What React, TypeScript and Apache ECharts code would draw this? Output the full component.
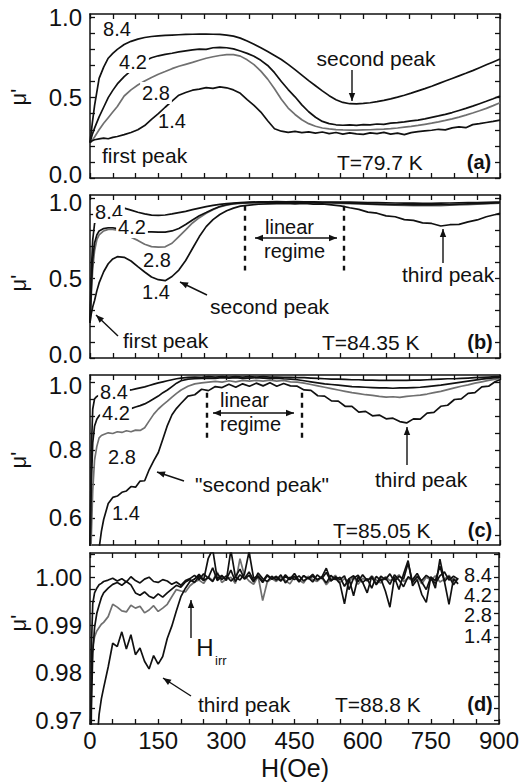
import React, { useEffect, useRef } from 'react';
import * as echarts from 'echarts';

const FONT = '"Liberation Sans", Arial, Helvetica, sans-serif';
const BLACK = '#111';
const GRAY = '#707070';

// ---------- Panel (a) T=79.7 K ----------
const aH = [0,5,10,20,30,40,50,60,75,90,105,120,135,150,165,180,195,210,225,240,255,270,285,300,315,330,345,360,375,390,405,420,435,450,465,480,495,510,525,540,555,570,585,600,615,630,645,660,675,690,705,720,735,750,765,780,795,810,825,840,855,870,885,900];
const a84 = [0.22,0.34,0.45,0.62,0.69,0.745,0.775,0.80,0.83,0.85,0.864,0.874,0.88,0.884,0.887,0.889,0.891,0.893,0.894,0.895,0.895,0.894,0.893,0.889,0.882,0.87,0.852,0.832,0.81,0.787,0.762,0.737,0.707,0.674,0.64,0.606,0.574,0.542,0.512,0.487,0.47,0.462,0.461,0.464,0.468,0.475,0.483,0.492,0.503,0.515,0.528,0.542,0.556,0.571,0.587,0.603,0.619,0.635,0.651,0.668,0.686,0.704,0.722,0.74];
const a42 = [0.22,0.27,0.31,0.38,0.44,0.50,0.545,0.585,0.63,0.668,0.70,0.728,0.748,0.76,0.769,0.776,0.784,0.791,0.797,0.802,0.80,0.81,0.812,0.81,0.803,0.79,0.775,0.757,0.732,0.70,0.655,0.60,0.55,0.505,0.455,0.412,0.378,0.352,0.338,0.331,0.328,0.330,0.327,0.332,0.330,0.336,0.334,0.341,0.344,0.349,0.355,0.36,0.368,0.377,0.386,0.396,0.407,0.42,0.433,0.447,0.462,0.477,0.493,0.51];
const a28 = [0.22,0.235,0.255,0.30,0.34,0.375,0.41,0.445,0.51,0.548,0.578,0.603,0.625,0.645,0.662,0.68,0.695,0.707,0.719,0.732,0.745,0.754,0.762,0.767,0.767,0.758,0.735,0.705,0.665,0.615,0.555,0.49,0.435,0.395,0.362,0.338,0.322,0.311,0.305,0.301,0.299,0.298,0.298,0.299,0.30,0.302,0.304,0.307,0.311,0.316,0.321,0.327,0.334,0.341,0.349,0.358,0.368,0.379,0.391,0.404,0.418,0.433,0.45,0.468];
const a14 = [0.22,0.232,0.238,0.243,0.248,0.244,0.253,0.258,0.27,0.283,0.30,0.326,0.365,0.40,0.44,0.478,0.515,0.532,0.546,0.553,0.562,0.557,0.567,0.561,0.548,0.527,0.487,0.452,0.41,0.356,0.306,0.291,0.284,0.29,0.282,0.287,0.279,0.286,0.276,0.283,0.273,0.281,0.275,0.271,0.281,0.276,0.284,0.273,0.279,0.27,0.282,0.288,0.293,0.297,0.303,0.299,0.312,0.318,0.313,0.332,0.338,0.345,0.352,0.36];

// ---------- Panel (b) T=84.35 K ----------
const bH = [0,3,6,10,15,20,30,40,50,60,75,90,105,120,135,150,165,180,195,210,225,240,255,270,285,300,315,330,350,370,390,410,430,450,470,490,510,530,550,570,590,610,630,650,670,690,710,730,750,770,790,810,830,850,870,890,900];
const b84 = [0.22,0.55,0.74,0.84,0.885,0.905,0.92,0.93,0.937,0.94,0.938,0.925,0.912,0.902,0.894,0.892,0.895,0.902,0.91,0.918,0.928,0.938,0.947,0.955,0.961,0.966,0.97,0.973,0.975,0.977,0.977,0.978,0.977,0.978,0.977,0.977,0.976,0.976,0.975,0.975,0.974,0.973,0.972,0.971,0.97,0.969,0.969,0.968,0.968,0.969,0.97,0.971,0.972,0.973,0.974,0.975,0.975];
const b42 = [0.22,0.45,0.62,0.72,0.77,0.795,0.81,0.815,0.815,0.81,0.80,0.793,0.79,0.789,0.789,0.788,0.788,0.795,0.81,0.835,0.864,0.89,0.91,0.931,0.948,0.959,0.966,0.97,0.972,0.974,0.975,0.975,0.974,0.975,0.974,0.974,0.973,0.972,0.971,0.969,0.967,0.965,0.963,0.961,0.96,0.959,0.958,0.958,0.958,0.959,0.96,0.962,0.964,0.966,0.968,0.97,0.971];
const b28 = [0.22,0.40,0.56,0.67,0.74,0.77,0.795,0.805,0.805,0.80,0.785,0.755,0.736,0.712,0.697,0.694,0.696,0.718,0.76,0.802,0.845,0.878,0.906,0.928,0.946,0.957,0.964,0.968,0.97,0.971,0.972,0.973,0.972,0.973,0.971,0.972,0.97,0.97,0.968,0.966,0.964,0.962,0.96,0.958,0.956,0.955,0.954,0.953,0.953,0.954,0.956,0.958,0.96,0.963,0.966,0.968,0.969];
const b14 = [0.22,0.28,0.32,0.36,0.42,0.47,0.54,0.59,0.62,0.634,0.63,0.607,0.572,0.538,0.507,0.49,0.484,0.51,0.55,0.61,0.685,0.76,0.822,0.866,0.898,0.921,0.938,0.95,0.957,0.962,0.965,0.966,0.968,0.965,0.967,0.963,0.964,0.958,0.952,0.94,0.93,0.913,0.906,0.889,0.884,0.866,0.861,0.846,0.842,0.826,0.834,0.836,0.852,0.864,0.884,0.898,0.906];
const bLinearH = [340, 556];
const bLinearV = [0.547, 0.953];

// ---------- Panel (c) T=85.05 K ----------
const cH = [0,3,6,10,15,20,25,30,40,50,60,70,80,90,100,110,120,130,140,150,160,170,180,190,200,215,230,245,260,275,290,305,320,335,350,365,380,395,410,425,440,455,470,485,500,515,530,545,560,575,590,605,620,635,650,665,680,695,710,725,740,755,770,785,800,815,830,845,860,875,890,900];
const c84 = [0.50,0.80,0.92,0.95,0.957,0.96,0.965,0.967,0.969,0.971,0.972,0.973,0.974,0.976,0.979,0.982,0.985,0.989,0.993,0.997,1.0,1.003,1.006,1.009,1.011,1.013,1.014,1.013,1.015,1.014,1.015,1.014,1.015,1.014,1.015,1.014,1.015,1.014,1.014,1.013,1.013,1.012,1.012,1.011,1.01,1.009,1.008,1.008,1.007,1.006,1.006,1.005,1.005,1.004,1.004,1.004,1.004,1.004,1.005,1.005,1.006,1.007,1.008,1.009,1.009,1.01,1.011,1.012,1.013,1.014,1.015,1.015];
const c42 = [0.50,0.70,0.82,0.87,0.89,0.90,0.905,0.908,0.91,0.912,0.914,0.916,0.918,0.921,0.926,0.93,0.935,0.942,0.95,0.958,0.968,0.976,0.986,0.996,1.003,1.008,1.009,1.01,1.011,1.01,1.012,1.011,1.012,1.01,1.011,1.012,1.011,1.01,1.011,1.009,1.008,1.006,1.003,1.0,0.997,0.994,0.992,0.99,0.988,0.986,0.985,0.984,0.983,0.982,0.982,0.981,0.982,0.982,0.983,0.984,0.986,0.988,0.99,0.993,0.996,0.999,1.002,1.005,1.008,1.01,1.012,1.013];
const c28 = [0.40,0.55,0.68,0.77,0.81,0.835,0.842,0.845,0.85,0.848,0.853,0.851,0.856,0.853,0.858,0.857,0.865,0.885,0.905,0.92,0.932,0.943,0.955,0.966,0.976,0.987,0.994,0.997,0.999,1.001,0.999,1.003,1.0,1.004,1.002,1.004,1.002,1.005,1.002,1.004,1.0,0.999,0.996,0.992,0.988,0.984,0.98,0.976,0.972,0.968,0.965,0.962,0.96,0.957,0.955,0.956,0.954,0.957,0.959,0.961,0.964,0.968,0.972,0.977,0.982,0.987,0.991,0.996,1.0,1.004,1.008,1.01];
const c14 = [0.30,0.33,0.36,0.40,0.45,0.51,0.56,0.595,0.642,0.66,0.664,0.675,0.679,0.692,0.69,0.708,0.709,0.742,0.768,0.792,0.832,0.872,0.903,0.922,0.937,0.958,0.962,0.978,0.974,0.986,0.983,0.993,0.984,0.994,0.987,0.996,0.988,0.997,0.987,0.995,0.988,0.987,0.976,0.975,0.959,0.958,0.944,0.943,0.928,0.928,0.911,0.913,0.9,0.902,0.891,0.893,0.883,0.879,0.891,0.89,0.908,0.91,0.928,0.931,0.948,0.95,0.966,0.968,0.985,0.987,1.001,1.006];
const cLinearH = [256, 465];
const cLinearV = [0.835, 0.968];

// ---------- Panel (d) T=88.8 K ----------
const dH = [0,3,6,10,15,20,25,30,40,50,60,70,80,90,100,110,120,130,140,150,160,170,180,190,200,210,220,230,240,250,260,270,280,290,300,310,320,330,340,350,360,370,380,390,400,410,420,430,440,450,460,470,480,490,500,510,520,530,540,550,560,570,580,590,600,610,620,630,640,650,660,670,680,690,700,710,720,730,740,750,760,770,780,790,800,810];
const d84 = [0.95,0.985,0.9945,0.9968,0.9978,0.9985,0.9988,0.9992,0.9995,0.9999,0.9993,0.9998,0.9991,1.0002,0.9994,0.9989,0.9997,1.0001,0.9992,0.999,0.9996,0.9993,0.9986,0.9991,0.9984,0.9994,0.9998,1.0005,0.9996,1.0008,0.9999,1.0021,0.9994,1.0003,0.9997,1.0016,0.9992,1.0006,0.9998,1.0012,0.9995,1.0002,0.999,1.0004,0.9997,1.0001,0.9993,1.0006,0.9996,1.0003,0.9991,1.0004,0.9998,1.0007,0.9995,1.0002,0.9989,1.0005,0.9996,1.0001,0.9982,0.9998,1.0004,0.9992,1.0006,0.9994,1.0001,0.9987,1.0003,0.9996,1.0008,0.9992,1.0003,0.9997,1.0031,0.999,1.0002,0.9994,1.0005,0.9998,0.9988,1.0004,1.0012,0.9995,1.0003,0.9997];
const d42 = [0.94,0.972,0.984,0.9895,0.9925,0.9942,0.9958,0.9968,0.9978,0.9986,0.999,0.9984,0.9992,0.9985,0.9968,0.9963,0.997,0.9961,0.9957,0.9966,0.9959,0.9968,0.9976,0.9984,0.998,0.9991,0.9996,0.999,1.0003,0.9994,1.0,0.9992,1.0009,0.9996,1.0004,0.9993,1.0002,1.0018,0.9997,1.0005,0.9991,1.001,0.9998,0.9992,1.0003,0.9995,1.0006,0.9989,1.0001,0.9996,1.0004,0.9993,1.0,0.9991,1.0006,0.9998,1.0011,0.9993,1.0002,0.9996,1.0004,0.9975,0.9999,1.0005,0.999,0.9998,0.9978,1.0003,0.9994,1.0,0.9986,1.0006,0.9995,0.9981,1.0002,0.9996,1.0009,0.9991,0.9975,1.0001,0.9994,1.0024,0.9992,1.0003,0.9985,0.9999];
const d28 = [0.955,0.978,0.9855,0.9875,0.9888,0.9895,0.9902,0.9906,0.9918,0.9944,0.9938,0.993,0.9928,0.9942,0.9936,0.994,0.9926,0.9932,0.9941,0.9929,0.9936,0.9944,0.996,0.9975,0.9972,0.997,0.9983,0.9991,0.9995,0.9988,1.0002,0.9994,1.0012,0.999,0.9997,1.0001,0.9988,1.004,1.0004,0.9993,0.9986,1.0003,0.9952,0.9991,0.9998,0.9992,1.0001,0.9994,0.9987,1.0002,0.9995,0.9989,1.0003,0.9996,0.9992,1.0001,0.9985,0.9997,1.0005,0.999,0.9998,0.9993,1.0002,0.9986,0.9999,0.9993,1.0004,0.9995,0.9989,1.0002,0.9994,0.9998,1.0006,0.9992,0.9999,0.9994,1.0003,0.9987,1.0001,0.9995,1.0004,0.9991,0.9997,1.0005,0.9993,0.9998];
const d14 = [0.93,0.94,0.95,0.958,0.965,0.9712,0.9745,0.9768,0.9812,0.9862,0.9855,0.9886,0.985,0.988,0.9838,0.9852,0.9824,0.9808,0.9836,0.9818,0.9834,0.9872,0.9898,0.993,0.996,0.9978,0.9992,0.9997,1.0007,0.9995,1.004,1.006,0.9998,1.0005,0.9994,1.0058,1.0001,0.9995,1.0008,1.0055,0.9999,1.0004,0.9993,1.0006,0.9998,1.0003,0.9994,1.0002,0.9997,1.0009,0.9993,1.0004,0.9998,1.0003,0.9996,1.0001,1.002,0.9994,0.9999,0.9988,0.9945,0.9998,0.9962,1.0002,0.999,0.9968,1.0003,0.9985,0.9998,0.9972,0.9938,1.0001,0.9975,1.0008,1.0036,0.9983,0.9996,0.9965,0.9948,1.0002,0.9978,1.0039,0.9992,0.9944,0.9998,0.9987];

// ---------- axes ----------
const xTickLabels = [0, 150, 300, 450, 600, 750, 900];
const abTicks = [0,0.1,0.2,0.3,0.4,0.5,0.6,0.7,0.8,0.9,1.0];
const abLabels = [0, 0.5, 1.0];
const cTicks = [0.55,0.6,0.65,0.7,0.75,0.8,0.85,0.9,0.95,1.0];
const cLabels = [0.6, 0.8, 1.0];
const dTicks = [0.97,0.9725,0.975,0.9775,0.98,0.9825,0.985,0.9875,0.99,0.9925,0.995,0.9975,1.0,1.0025,1.005];
const dLabels = [0.97, 0.98, 0.99, 1.0];
const curveNames = ['1.4', '2.8', '4.2', '8.4'];

const panels = [
  { H: aH, curves: [a14, a28, a42, a84], min: 0, max: 1.02, ticks: abTicks, labels: abLabels, digits: 1, nudgeTop: false, nudgeBottom: true },
  { H: bH, curves: [b14, b28, b42, b84], min: 0, max: 1.02, ticks: abTicks, labels: abLabels, digits: 1, nudgeTop: true, nudgeBottom: true },
  { H: cH, curves: [c14, c28, c42, c84], min: 0.52, max: 1.02, ticks: cTicks, labels: cLabels, digits: 1, nudgeTop: true, nudgeBottom: false },
  { H: dH, curves: [d14, d28, d42, d84], min: 0.9692, max: 1.0052, ticks: dTicks, labels: dLabels, digits: 2, nudgeTop: false, nudgeBottom: false },
];
const linearRegimes = [null, { h: bLinearH, v: bLinearV }, { h: cLinearH, v: cLinearV }, null];

const GRIDS = [
  { top: 14, height: 164 },
  { top: 195, height: 163 },
  { top: 375, height: 170 },
  { top: 553, height: 171 },
];

function txt(text: string, x: number, y: number, o: any = {}) {
  const style: any = {
    text,
    fill: BLACK,
    font: `${o.weight || 'normal'} ${o.size || 20}px ${FONT}`,
    align: o.align || 'left',
    verticalAlign: 'middle',
  };
  if (o.bg) {
    style.backgroundColor = '#fff';
    style.padding = [1, 2];
  }
  return { type: 'text', x, y, z: 100, rotation: o.rotation || 0, style };
}

function head(x1: number, y1: number, x2: number, y2: number) {
  const dx = x2 - x1, dy = y2 - y1;
  const L = Math.hypot(dx, dy);
  const ux = dx / L, uy = dy / L;
  const hl = 8, hw = 3.2;
  const bx = x2 - ux * hl, by = y2 - uy * hl;
  return {
    type: 'polygon', z: 100,
    shape: { points: [[x2, y2], [bx - uy * hw, by + ux * hw], [bx + uy * hw, by - ux * hw]] },
    style: { fill: BLACK },
  };
}
function arrow(x1: number, y1: number, x2: number, y2: number) {
  return [
    { type: 'line', z: 100, shape: { x1, y1, x2, y2 }, style: { stroke: BLACK, lineWidth: 1.4 } },
    head(x1, y1, x2, y2),
  ];
}
function dblArrow(x1: number, y1: number, x2: number, y2: number) {
  return [
    { type: 'line', z: 100, shape: { x1, y1, x2, y2 }, style: { stroke: BLACK, lineWidth: 1.4 } },
    head(x1, y1, x2, y2),
    head(x2, y2, x1, y1),
  ];
}

function buildOption() {
  const grid: any[] = [];
  const xAxis: any[] = [];
  const yAxis: any[] = [];
  const series: any[] = [];
  const axisLine = { show: true, onZero: false, lineStyle: { color: BLACK, width: 1.5 } };
  const axisTick = { show: true, inside: true, length: 5, lineStyle: { color: BLACK, width: 1.3 } };
  const labelFont = { fontFamily: FONT, fontSize: 24, color: BLACK };

  panels.forEach((p, i) => {
    grid.push({ left: 90, width: 410, top: GRIDS[i].top, height: GRIDS[i].height, containLabel: false });
    ['bottom', 'top'].forEach((pos) => {
      xAxis.push({
        gridIndex: i, type: 'value', min: 0, max: 900, interval: 50, position: pos,
        axisLine, axisTick,
        axisLabel: {
          show: i === 3 && pos === 'bottom', interval: 0, margin: 4, ...labelFont,
          formatter: (v: number) => (xTickLabels.indexOf(v) >= 0 ? String(v) : ''),
        },
        splitLine: { show: false },
      });
    });
    const lo = p.labels[0];
    const hi = p.labels[p.labels.length - 1];
    ['left', 'right'].forEach((pos) => {
      yAxis.push({
        gridIndex: i, type: 'value', min: p.min, max: p.max, position: pos,
        axisLine,
        axisTick: { ...axisTick, customValues: p.ticks },
        axisLabel: {
          show: pos === 'left', customValues: p.labels, margin: 8, ...labelFont, lineHeight: 20,
          formatter: (v: number) => {
            const s = v.toFixed(p.digits);
            if (p.nudgeBottom && Math.abs(v - lo) < 1e-9) return `{up|${s}}`;
            if (p.nudgeTop && Math.abs(v - hi) < 1e-9) return `{dn|${s}}`;
            return s;
          },
          rich: {
            up: { ...labelFont, lineHeight: 20, padding: [0, 0, 8, 0] },
            dn: { ...labelFont, lineHeight: 20, padding: [8, 0, 0, 0] },
          },
        },
        splitLine: { show: false },
      });
    });
    p.curves.forEach((vals, k) => {
      const s: any = {
        name: `${curveNames[k]}-${i}`,
        type: 'line', xAxisIndex: 2 * i, yAxisIndex: 2 * i,
        data: p.H.map((h, j) => [h, vals[j]]),
        showSymbol: false, symbol: 'none', silent: true,
        lineStyle: { color: k === 1 ? GRAY : BLACK, width: 1.7 },
        itemStyle: { color: k === 1 ? GRAY : BLACK },
        z: k === 1 ? 3 : 4,
      };
      const lr = linearRegimes[i];
      if (k === 0 && lr) {
        s.markLine = {
          silent: true, symbol: ['none', 'none'], label: { show: false },
          lineStyle: { type: [5, 5], width: 2.4, color: BLACK },
          data: lr.h.map((h) => [{ coord: [h, lr.v[1]] }, { coord: [h, lr.v[0]] }]),
        };
      }
      series.push(s);
    });
  });

  const A = 21; // annotation font size
  const graphic: any[] = [
    // y-axis names
    txt("μ'", 18, 97, { size: 22, align: 'center', rotation: Math.PI / 2 }),
    txt("μ'", 18, 283, { size: 22, align: 'center', rotation: Math.PI / 2 }),
    txt("μ'", 18, 460, { size: 22, align: 'center', rotation: Math.PI / 2 }),
    txt("μ'", 18, 623, { size: 22, align: 'center', rotation: Math.PI / 2 }),
    txt('H(Oe)', 295, 768, { size: 25, align: 'center' }),

    // (a)
    txt('8.4', 117, 29, { align: 'center' }),
    txt('4.2', 133, 62, { align: 'center', bg: true }),
    txt('2.8', 156, 93, { align: 'center', bg: true }),
    txt('1.4', 172, 121, { align: 'center' }),
    txt('first peak', 102, 155, { size: A }),
    txt('second peak', 376, 58, { align: 'center', size: A }),
    ...arrow(352, 70, 352, 101),
    txt('T=79.7 K', 337, 162, { size: A }),
    txt('(a)', 479, 162, { align: 'center', weight: 'bold' }),

    // (b)
    txt('8.4', 109, 212, { align: 'center', bg: true }),
    txt('4.2', 132, 227, { align: 'center', bg: true }),
    txt('2.8', 157, 260, { align: 'center' }),
    txt('1.4', 156, 292, { align: 'center' }),
    txt('linear', 265, 227),
    txt('regime', 264, 251),
    ...dblArrow(255, 238, 337, 238),
    txt('second peak', 210, 306, { size: A }),
    ...arrow(207, 295, 180, 282),
    txt('first peak', 123, 340, { size: A }),
    ...arrow(118, 336, 96, 315),
    txt('third peak', 402, 274, { size: A }),
    ...arrow(443, 263, 443, 229),
    txt('T=84.35 K', 322, 342, { size: A }),
    txt('(b)', 480, 342, { align: 'center', weight: 'bold' }),

    // (c)
    txt('8.4', 114, 392, { align: 'center', bg: true }),
    txt('4.2', 116, 413, { align: 'center', bg: true }),
    txt('2.8', 122, 457, { align: 'center' }),
    txt('1.4', 126, 513, { align: 'center' }),
    txt('linear', 220, 400),
    txt('regime', 220, 424),
    ...dblArrow(213, 413, 294, 413),
    txt('"second peak"', 195, 484, { size: A }),
    ...arrow(184, 481, 157, 472),
    txt('third peak', 375, 479, { size: A }),
    ...arrow(407, 465, 407, 427),
    txt('T=85.05 K', 333, 530, { size: A }),
    txt('(c)', 480, 530, { align: 'center', weight: 'bold' }),

    // (d)
    txt('8.4', 478, 575, { align: 'center' }),
    txt('4.2', 478, 595, { align: 'center' }),
    txt('2.8', 478, 615, { align: 'center' }),
    txt('1.4', 478, 636, { align: 'center' }),
    txt('H', 205, 647, { size: 24, align: 'center' }),
    txt('irr', 215, 660, { size: 13 }),
    ...arrow(191, 638, 191, 600),
    txt('third peak', 198, 704, { size: A }),
    ...arrow(191, 696, 163, 678),
    txt('T=88.8 K', 335, 704, { size: A }),
    txt('(d)', 480, 704, { align: 'center', weight: 'bold' }),
  ];

  return {
    animation: false,
    backgroundColor: '#fff',
    grid, xAxis, yAxis, series, graphic,
  };
}

export default function App() {
  const ref = useRef<HTMLDivElement>(null);
  useEffect(() => {
    const chart = echarts.init(ref.current!, undefined, { renderer: 'svg' });
    chart.setOption(buildOption() as any);
    return () => chart.dispose();
  }, []);
  return (
    <div
      ref={ref}
      style={{ position: 'absolute', left: 0, top: 0, width: 522, height: 783, background: '#fff' }}
    />
  );
}
